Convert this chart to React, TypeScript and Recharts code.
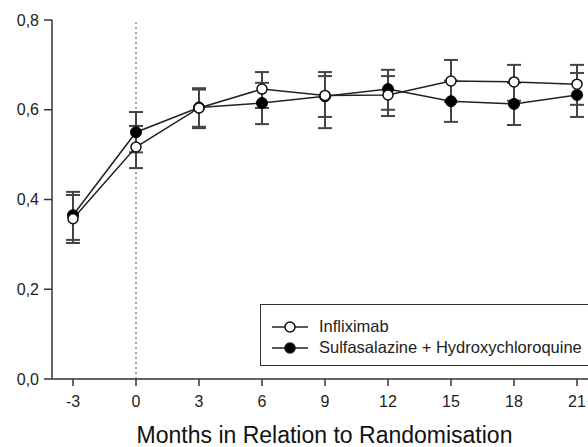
import React from 'react'
import { ComposedChart, Line, XAxis, YAxis, ErrorBar, ReferenceLine, Legend } from 'recharts'

const months = [-3, 0, 3, 6, 9, 12, 15, 18, 21]
const xTicks = [-3, 0, 3, 6, 9, 12, 15, 18, 21]
const yTicks = [0, 0.2, 0.4, 0.6, 0.8]

const seriesNames = ['Infliximab', 'Sulfasalazine + Hydroxychloroquine']

const inflixMean = [0.357, 0.517, 0.604, 0.646, 0.632, 0.633, 0.664, 0.662, 0.657]
const inflixLow = [0.303, 0.47, 0.562, 0.604, 0.584, 0.586, 0.618, 0.62, 0.611]
const inflixHigh = [0.41, 0.564, 0.645, 0.684, 0.684, 0.675, 0.711, 0.7, 0.7]

const sulfMean = [0.365, 0.55, 0.605, 0.615, 0.63, 0.646, 0.619, 0.613, 0.633]
const sulfLow = [0.31, 0.505, 0.559, 0.568, 0.559, 0.6, 0.573, 0.566, 0.584]
const sulfHigh = [0.417, 0.595, 0.648, 0.66, 0.675, 0.689, 0.665, 0.66, 0.682]

const chartData = months.map((m, i) => ({
  month: m,
  inflix: inflixMean[i],
  inflixErr: [inflixMean[i] - inflixLow[i], inflixHigh[i] - inflixMean[i]],
  sulf: sulfMean[i],
  sulfErr: [sulfMean[i] - sulfLow[i], sulfHigh[i] - sulfMean[i]],
}))

const font = '"Liberation Sans", Arial, sans-serif'

function LegendBox() {
  const marker = (filled: boolean) => (
    <svg width={36} height={14} style={{ display: 'block' }}>
      <line x1={0} y1={7} x2={36} y2={7} stroke="#222" strokeWidth={1.5} />
      <circle cx={18} cy={7} r={5} fill={filled ? '#000' : '#fff'} stroke="#111" strokeWidth={1.5} />
    </svg>
  )
  return (
    <div
      style={{
        border: '1.5px solid #333',
        width: 360,
        height: 62,
        boxSizing: 'border-box',
        padding: '11px 0 0 11px',
        fontFamily: font,
        fontSize: 16.5,
        color: '#222',
        background: '#fff',
        textAlign: 'left',
      }}
    >
      {seriesNames.map((name, i) => (
        <div key={name} style={{ display: 'flex', alignItems: 'center', height: 21 }}>
          {marker(i === 1)}
          <span style={{ marginLeft: 11 }}>{name}</span>
        </div>
      ))}
    </div>
  )
}

export default function App() {
  return (
    <div
      style={{
        position: 'fixed',
        top: 0,
        left: 0,
        width: 588,
        height: 447,
        overflow: 'hidden',
        background: '#fff',
        fontFamily: font,
      }}
    >
      <ComposedChart width={619} height={447} data={chartData} margin={{ top: 20, right: 0, left: 0, bottom: 0 }}>
        <XAxis
          dataKey="month"
          type="number"
          domain={[-4, 23]}
          ticks={xTicks}
          interval={0}
          allowDataOverflow
          height={68}
          tickSize={7}
          tickMargin={10}
          stroke="#333"
          strokeWidth={1.5}
          tick={{ fontSize: 16, fill: '#222', fontFamily: font }}
          label={{
            value: 'Months in Relation to Randomisation',
            position: 'insideBottom',
            offset: 4,
            dx: -11,
            style: { fontSize: 23, fill: '#111', fontFamily: font },
          }}
        />
        <YAxis
          type="number"
          domain={[0, 0.8]}
          ticks={yTicks}
          width={52}
          tickSize={8}
          tickMargin={5}
          stroke="#333"
          strokeWidth={1.5}
          tick={{ fontSize: 16, fill: '#222', fontFamily: font }}
          tickFormatter={(v: number) => v.toFixed(1).replace('.', ',')}
        />
        <ReferenceLine x={0} stroke="#888" strokeDasharray="2 3" strokeWidth={1.5} />
        <Legend
          layout="horizontal"
          verticalAlign="middle"
          align="center"
          wrapperStyle={{ left: 260, top: 304, width: 360 }}
          content={() => <LegendBox />}
        />
        <Line
          dataKey="sulf"
          name={seriesNames[1]}
          stroke="#222"
          strokeWidth={1.5}
          isAnimationActive={false}
          dot={{ r: 5.5, fill: '#000', stroke: '#000', strokeWidth: 1 }}
        >
          <ErrorBar dataKey="sulfErr" direction="y" width={7} stroke="#444" strokeWidth={2} />
        </Line>
        <Line
          dataKey="inflix"
          name={seriesNames[0]}
          stroke="#222"
          strokeWidth={1.5}
          isAnimationActive={false}
          dot={{ r: 5, fill: '#fff', stroke: '#111', strokeWidth: 1.5 }}
        >
          <ErrorBar dataKey="inflixErr" direction="y" width={7} stroke="#444" strokeWidth={2} />
        </Line>
      </ComposedChart>
    </div>
  )
}
